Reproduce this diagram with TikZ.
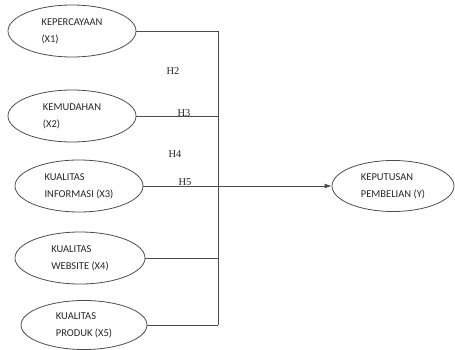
\documentclass[tikz,border=0pt]{standalone}
\usepackage{fontspec}
\setmainfont{Liberation Serif}
\newfontfamily\carl{Carlito}
\usetikzlibrary{shapes.geometric,arrows.meta}
\begin{document}
\begin{tikzpicture}[x=1pt,y=-1pt,
  var/.style={ellipse,draw=black!70,line width=0.8pt,inner sep=0pt,minimum width=128pt,minimum height=52pt,align=left,font=\carl\fontsize{10.5}{17}\selectfont,text=black!85},
  conn/.style={draw=black!70,line width=0.8pt},
  hlab/.style={font=\fontsize{10.5}{12}\selectfont,text=black!85,inner sep=0pt}]
\useasboundingbox (0,0) rectangle (455,350);
\node[var] (e1) at (72,31) {KEPERCAYAAN\\(X1)};
\node[var] (e2) at (72,116) {KEMUDAHAN\\(X2)};
\node[var] (e3) at (79,186) {KUALITAS\\INFORMASI (X3)};
\node[var,minimum width=130pt] (e4) at (80,258) {KUALITAS\\WEBSITE (X4)};
\node[var,minimum width=126pt,minimum height=49pt] (e5) at (84,325) {KUALITAS\\PRODUK (X5)};
\node[var,minimum width=122pt,minimum height=51pt] (ey) at (393,186) {KEPUTUSAN\\PEMBELIAN (Y)};
\coordinate (bt) at (218,31);
\coordinate (bb) at (218,325);
\coordinate (j1) at (e1.east -| bt);
\coordinate (j2) at (e2.east -| bt);
\coordinate (j4) at (e4.east -| bt);
\coordinate (j5) at (e5.east -| bt);
\draw[conn] (e1.east) -- (j1);
\draw[conn] (e2.east) -- (j2);
\draw[conn] (e4.east) -- (j4);
\draw[conn] (e5.east) -- (j5);
\draw[conn] (j1) -- (j5);
\draw[conn,-{Latex[length=7pt,width=5pt]}] (e3.east) -- (ey.west);
\node[hlab] (h2) at (173,71) {H2};
\node[hlab] (h3) at (184,113) {H3};
\node[hlab] (h4) at (175,154) {H4};
\node[hlab] (h5) at (185,182) {H5};
\end{tikzpicture}
\end{document}
